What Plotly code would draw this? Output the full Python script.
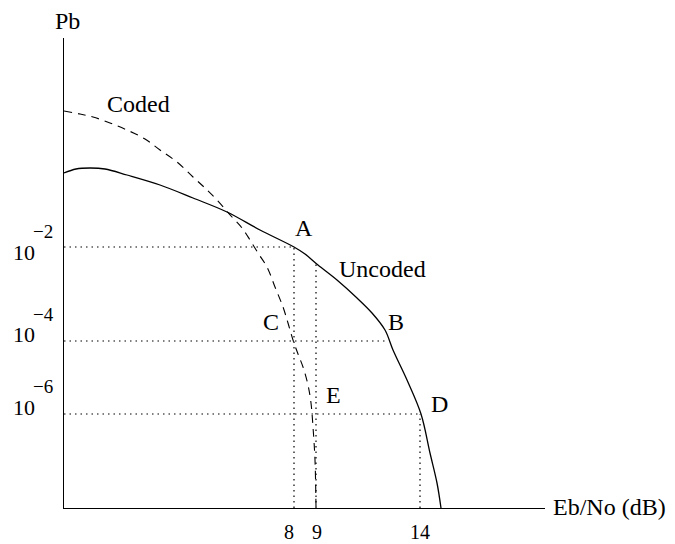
import plotly.graph_objects as go

# Schematic coordinates (arbitrary units; origin at the axes corner)
uncoded_x = [0, 12, 26, 41, 63, 96, 129, 163, 196, 230, 241, 254, 273, 293, 308, 321, 329, 343, 357, 366, 373, 377]
uncoded_y = [335, 339, 340, 339, 333, 323, 310, 296, 278, 261, 254, 243, 228, 210, 195, 178, 158, 128, 94, 55, 25, 0]

coded_x = [0, 16, 29, 46, 63, 81, 96, 113, 129, 141, 153, 168, 178, 186, 194, 203, 211, 219, 224, 229, 234, 239, 244, 247, 249, 251, 252]
coded_y = [397, 394, 391, 385, 378, 369, 358, 346, 331, 320, 308, 291, 280, 268, 255, 241, 221, 201, 185, 168, 154, 141, 123, 105, 81, 48, 0]

# Guide levels
level_y = [261, 167, 94]            # 10^-2, 10^-4, 10^-6
level_end_x = [230, 324, 357]       # A, B, D
y_exponents = ["−2", "−4", "−6"]

tick_x = [230, 252, 356]            # 8, 9, 14 dB
tick_top = [261, 246, 94]
tick_labels = ["8", "9", "14"]

point_labels = ["A", "B", "C", "D", "E"]
point_x = [239.5, 332, 206.5, 375, 269]
point_y = [279.5, 186, 186, 103.5, 113]

FONT = "Liberation Serif"
XR = 481.0
YR = 470.0

fig = go.Figure()

# dotted guides
for yv, xe in zip(level_y, level_end_x):
    fig.add_trace(go.Scatter(x=[0, xe], y=[yv, yv], mode="lines",
                             line=dict(color="black", width=1.2, dash="1.5px,4px"),
                             hoverinfo="skip", showlegend=False))
for xv, yt in zip(tick_x, tick_top):
    fig.add_trace(go.Scatter(x=[xv, xv], y=[0, yt], mode="lines",
                             line=dict(color="black", width=1.2, dash="1.5px,4px"),
                             hoverinfo="skip", showlegend=False))

fig.add_trace(go.Scatter(x=coded_x, y=coded_y, mode="lines", line_shape="spline",
                         line=dict(color="black", width=1.1, dash="8px,6px"),
                         hoverinfo="skip", showlegend=False))
fig.add_trace(go.Scatter(x=uncoded_x, y=uncoded_y, mode="lines", line_shape="spline",
                         line=dict(color="black", width=1.3),
                         hoverinfo="skip", showlegend=False))

ann = []
def txt(x, y, t, size=24, xa="center", ya="middle", pad=1):
    ann.append(dict(x=x / XR, y=y / YR, xref="paper", yref="paper", text=t, showarrow=False,
                    xanchor=xa, yanchor=ya, borderpad=pad,
                    font=dict(family=FONT, size=size, color="black")))

for lab, px, py in zip(point_labels, point_x, point_y):
    txt(px, py, lab)
txt(74.5, 404, "Coded")
txt(318, 239, "Uncoded")
txt(3, 487, "Pb", pad=0)
txt(488, 1, "Eb/No (dB)", xa="left", pad=0)

for lab, xv in zip(tick_labels, [225, 253, 355.5]):
    txt(xv, -24, lab, size=20)

# y tick labels: "10" + exponent
ten_y = [256, 174, 101]
exp_y = [277, 194, 122]
for ty, ey, e in zip(ten_y, exp_y, y_exponents):
    txt(-27, ty, "10", size=22, xa="right")
    txt(-33, ey, e, size=19, xa="left")

fig.update_layout(
    width=675, height=544,
    margin=dict(l=56, r=138, t=30, b=44),
    paper_bgcolor="white", plot_bgcolor="white",
    xaxis=dict(range=[0, XR], showgrid=False, zeroline=False, showticklabels=False,
               ticks="", showline=True, linecolor="black", linewidth=1.3, fixedrange=True),
    yaxis=dict(range=[0, YR], showgrid=False, zeroline=False, showticklabels=False,
               ticks="", showline=True, linecolor="black", linewidth=1.3, fixedrange=True),
    annotations=ann,
)

fig.write_html("out.html")
